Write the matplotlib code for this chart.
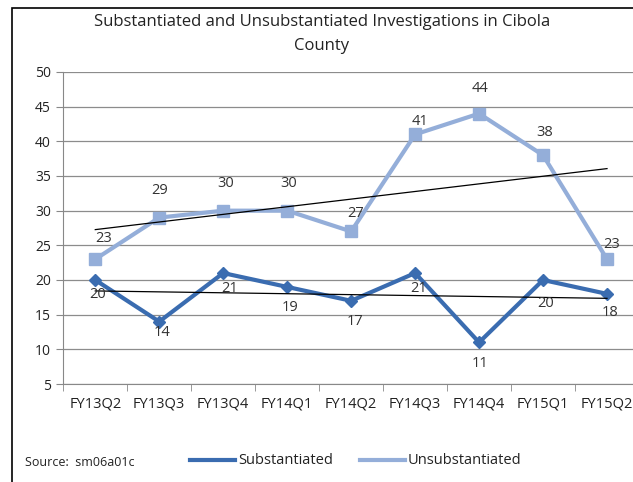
import matplotlib
matplotlib.use("Agg")
import matplotlib.pyplot as plt
import numpy as np
from matplotlib.patches import Rectangle
from matplotlib.lines import Line2D

categories = ["FY13Q2", "FY13Q3", "FY13Q4", "FY14Q1", "FY14Q2",
              "FY14Q3", "FY14Q4", "FY15Q1", "FY15Q2"]
substantiated = [20, 14, 21, 19, 17, 21, 11, 20, 18]
unsubstantiated = [23, 29, 30, 30, 27, 41, 44, 38, 23]
yticks = [5, 10, 15, 20, 25, 30, 35, 40, 45, 50]

# label placement offsets in pixels (dx, dy) relative to each point
uns_off = [(8, 21), (0, 27), (2, 27), (2, 27), (4, 18), (5, 13), (1, 25), (2, 23), (5, 15)]
sub_off = [(2, -15), (3, -11), (6, -15), (3, -21), (4, -21), (4, -15), (1, -21), (3, -24), (3, -19)]

plt.rcParams['font.family'] = ['Open Sans', 'DejaVu Sans']

W, H = 633, 482
fig = plt.figure(figsize=(W / 100, H / 100), dpi=100)

# outer border
fig.patches.append(Rectangle((12 / W, -0.1), 1.2, 1 - 8 / H + 0.1,
                             transform=fig.transFigure, fill=False,
                             edgecolor='black', linewidth=1.2))

ax = fig.add_axes([63.3 / W, 1 - 384 / H, (639 - 63.3) / W, (384 - 72) / H])
x = np.arange(len(categories))

c_sub = '#3A6CB0'
c_uns = '#94AED9'

ax.plot(x, unsubstantiated, color=c_uns, lw=3.0, marker='s', ms=9,
        zorder=3, clip_on=False)
ax.plot(x, substantiated, color=c_sub, lw=3.0, marker='D', ms=6.5,
        zorder=4, clip_on=False)

# linear trendlines
for ser in (unsubstantiated, substantiated):
    p = np.polyfit(x, ser, 1)
    ax.plot([x[0], x[-1]], np.polyval(p, [x[0], x[-1]]), color='black',
            lw=0.9, zorder=5)

px2pt = 72 / 100
for xi, v, (dx, dy) in zip(x, unsubstantiated, uns_off):
    ax.annotate(str(v), (xi, v), xytext=(dx * px2pt, dy * px2pt),
                textcoords='offset points', ha='center', va='center',
                fontsize=10.5, color='#333333', zorder=6)
for xi, v, (dx, dy) in zip(x, substantiated, sub_off):
    ax.annotate(str(v), (xi, v), xytext=(dx * px2pt, dy * px2pt),
                textcoords='offset points', ha='center', va='center',
                fontsize=10.5, color='#333333', zorder=6)

ax.set_xlim(-0.5, len(categories) - 0.5)
ax.set_ylim(5, 50)
ax.set_yticks(yticks)
ax.set_yticklabels([str(t) for t in yticks], fontsize=10, color='#222222')
ax.set_xticks(x)
ax.set_xticklabels(categories, fontsize=10.5, color='#222222')
ax.set_xticks(np.arange(-0.5, len(categories), 1), minor=True)
ax.tick_params(axis='x', which='major', length=0, pad=9)
ax.tick_params(axis='x', which='minor', length=5, color='#888888')
ax.tick_params(axis='y', length=5, color='#888888', pad=4)
ax.grid(axis='y', color='#8c8c8c', lw=0.9)
ax.set_axisbelow(True)
for s in ('top', 'right'):
    ax.spines[s].set_visible(False)
for s in ('left', 'bottom'):
    ax.spines[s].set_color('#888888')

fig.text(322 / W, 1 - 22 / H, "Substantiated and Unsubstantiated Investigations in Cibola",
         ha='center', va='center', fontsize=12, color='#222222')
fig.text(322 / W, 1 - 46 / H, "County", ha='center', va='center',
         fontsize=12, color='#222222')

fig.text(25 / W, 1 - 463 / H, "Source:  sm06a01c", ha='left', va='center',
         fontsize=9, color='#222222')

# legend
fig.lines.append(Line2D([190 / W, 235 / W], [1 - 460 / H] * 2,
                        transform=fig.transFigure, color=c_sub, lw=3.0))
fig.text(238 / W, 1 - 460 / H, "Substantiated", ha='left', va='center',
         fontsize=10.5, color='#222222')
fig.lines.append(Line2D([360 / W, 405 / W], [1 - 460 / H] * 2,
                        transform=fig.transFigure, color=c_uns, lw=3.0))
fig.text(408 / W, 1 - 460 / H, "Unsubstantiated", ha='left', va='center',
         fontsize=10.5, color='#222222')

fig.savefig("out.png", dpi=100)
